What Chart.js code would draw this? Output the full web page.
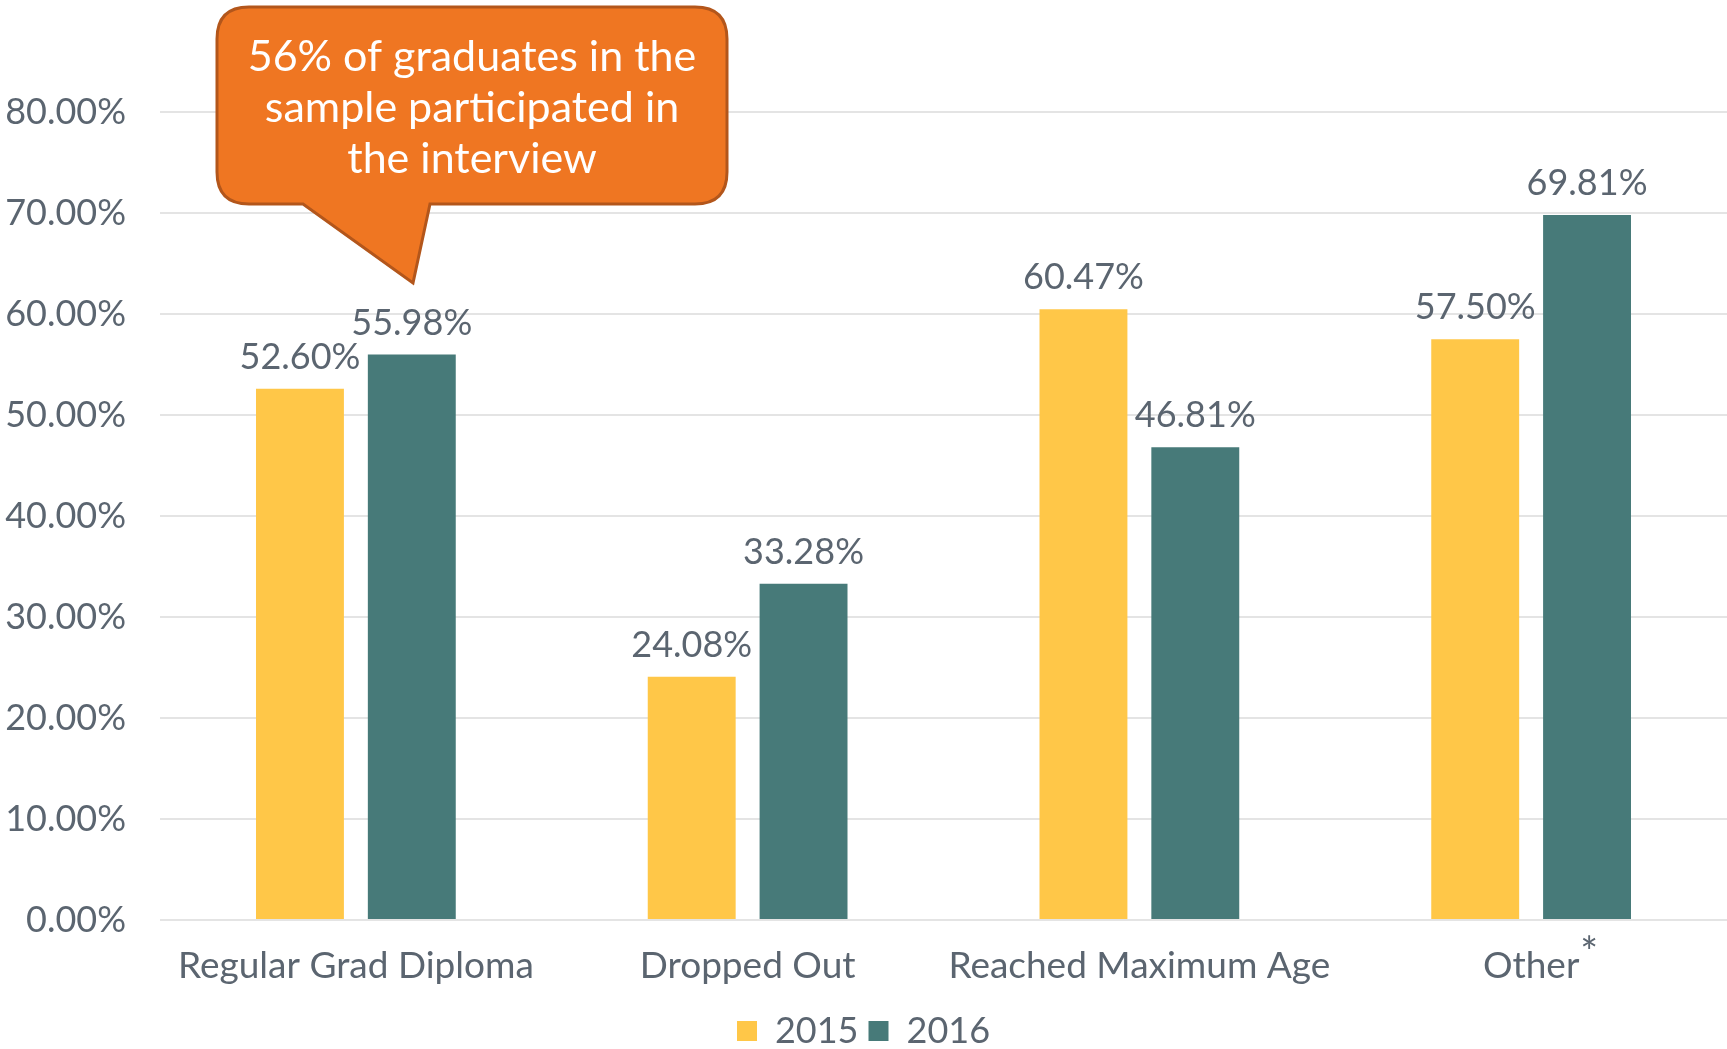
<!DOCTYPE html>
<html>
<head>
<meta charset="utf-8">
<script src="https://cdn.jsdelivr.net/npm/chart.js"></script>
<style>
  html, body { margin: 0; padding: 0; background: #fff; }
  #wrap { width: 1727px; height: 1049px; }
</style>
</head>
<body>
<div id="wrap"><canvas id="myChart"></canvas></div>
<script>
// data
var categories = ['Regular Grad Diploma', 'Dropped Out', 'Reached Maximum Age', 'Other'];
var years = ['2015', '2016'];
var values2015 = [52.60, 24.08, 60.47, 57.50];
var values2016 = [55.98, 33.28, 46.81, 69.81];
var footnoteCategory = 'Other'; // this one carries an asterisk
var calloutLines = ['56% of graduates in the', 'sample participated in', 'the interview'];

var textColor = '#5b6570';
var fontFamily = 'Lato, "Open Sans", sans-serif';

// value labels above each bar
var valueLabels = {
    id: 'valueLabels',
    afterDatasetsDraw: function (chart) {
        var ctx = chart.ctx;
        ctx.save();
        ctx.font = '36px ' + fontFamily;
        ctx.fillStyle = textColor;
        ctx.textAlign = 'center';
        ctx.textBaseline = 'alphabetic';
        chart.data.datasets.forEach(function (ds, i) {
            chart.getDatasetMeta(i).data.forEach(function (bar, j) {
                ctx.fillText(ds.data[j].toFixed(2) + '%', bar.x, bar.y - 20);
            });
        });
        ctx.restore();
    }
};

// asterisk on "Other" + the speech bubble
var extras = {
    id: 'extras',
    afterDraw: function (chart) {
        var ctx = chart.ctx;
        var xs = chart.scales.x;
        ctx.save();
        // asterisk
        var k = categories.indexOf(footnoteCategory);
        ctx.font = '37px ' + fontFamily;
        var w = ctx.measureText(footnoteCategory).width;
        var px = xs.getPixelForTick(k);
        ctx.fillStyle = textColor;
        ctx.textAlign = 'left';
        ctx.textBaseline = 'alphabetic';
        ctx.font = '42px ' + fontFamily;
        ctx.fillText('*', px + w / 2 + 1, xs.top + 47);

        // callout bubble
        var l = 217, t = 7, r = 727, b = 204, rad = 32;
        ctx.beginPath();
        ctx.moveTo(l + rad, t);
        ctx.lineTo(r - rad, t);
        ctx.quadraticCurveTo(r, t, r, t + rad);
        ctx.lineTo(r, b - rad);
        ctx.quadraticCurveTo(r, b, r - rad, b);
        ctx.lineTo(430, b);
        ctx.lineTo(413, 283);
        ctx.lineTo(303, b);
        ctx.lineTo(l + rad, b);
        ctx.quadraticCurveTo(l, b, l, b - rad);
        ctx.lineTo(l, t + rad);
        ctx.quadraticCurveTo(l, t, l + rad, t);
        ctx.closePath();
        ctx.fillStyle = '#ef7622';
        ctx.fill();
        ctx.lineWidth = 3;
        ctx.strokeStyle = '#b3561b';
        ctx.stroke();

        ctx.fillStyle = '#ffffff';
        ctx.font = '43px ' + fontFamily;
        ctx.textAlign = 'center';
        ctx.textBaseline = 'middle';
        calloutLines.forEach(function (line, i) {
            ctx.fillText(line, 472, 57 + i * 51);
        });
        ctx.restore();
    }
};

var bieudo = new Chart('myChart', {
    type: 'bar',
    data: {
        labels: categories,
        datasets: [{
            label: years[0],
            data: values2015,
            backgroundColor: '#ffc748',
            categoryPercentage: 0.571,
            barPercentage: 0.786
        }, {
            label: years[1],
            data: values2016,
            backgroundColor: '#477a79',
            categoryPercentage: 0.571,
            barPercentage: 0.786
        }]
    },
    options: {
        responsive: true,
        maintainAspectRatio: false,
        animation: false,
        layout: { padding: { top: 112, left: 0, right: 0, bottom: -10 } },
        scales: {
            x: {
                grid: { display: false, drawTicks: false },
                border: { display: false },
                ticks: {
                    color: textColor,
                    font: { family: fontFamily, size: 37 },
                    padding: 24,
                    maxRotation: 0
                },
                afterFit: function (scale) { scale.height = 83; }
            },
            y: {
                min: 0,
                max: 80,
                grid: { color: '#e4e4e4', lineWidth: 2, drawTicks: false },
                border: { display: false },
                ticks: {
                    stepSize: 10,
                    color: textColor,
                    font: { family: fontFamily, size: 36 },
                    padding: 34,
                    callback: function (v) { return v.toFixed(2) + '%'; }
                },
                afterFit: function (scale) { scale.width = 160; }
            }
        },
        plugins: {
            legend: {
                position: 'bottom',
                labels: {
                    color: textColor,
                    font: { family: fontFamily, size: 36 },
                    boxWidth: 20,
                    boxHeight: 20,
                    padding: 10
                }
            },
            tooltip: { enabled: false }
        }
    },
    plugins: [valueLabels, extras]
});
</script>
</body>
</html>
